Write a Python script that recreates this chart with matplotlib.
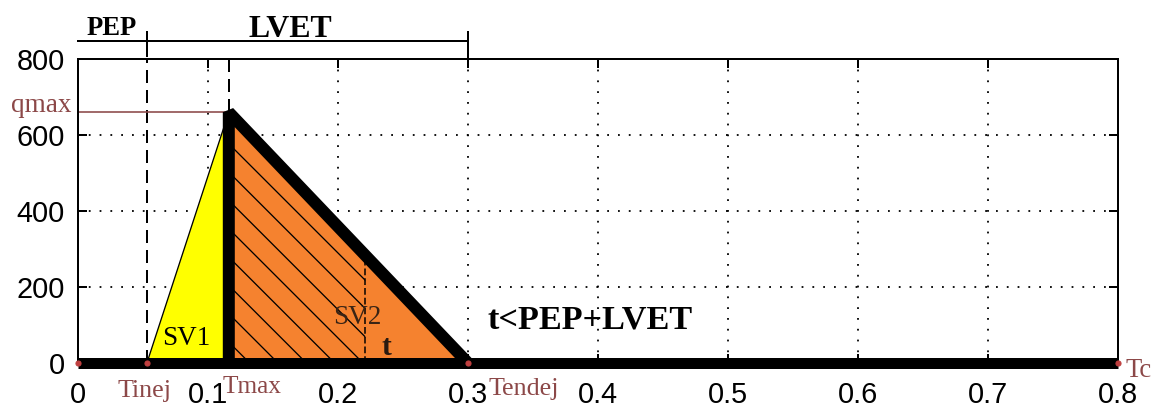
import numpy as np
import matplotlib
matplotlib.use("Agg")
import matplotlib.pyplot as plt
from matplotlib.patches import Polygon

# timing points of the ejection cycle (s) and peak flow
t_start = 0.0
t_inej = 0.053
t_max = 0.116
t_sv2 = 0.221
t_endej = 0.300
t_c = 0.800
q_max = 660.0

x_ticks = [0, 0.1, 0.2, 0.3, 0.4, 0.5, 0.6, 0.7, 0.8]
x_ticklabels = ["0", "0.1", "0.2", "0.3", "0.4", "0.5", "0.6", "0.7", "0.8"]
y_ticks = [0, 200, 400, 600, 800]

DPI = 85
PX = 72.0 / DPI  # one pixel in points

SERIF = ["Liberation Serif", "DejaVu Serif"]
SANS = ["Liberation Sans", "DejaVu Sans"]
BROWN = "#8c4848"

plt.rcParams["hatch.linewidth"] = 1.3 * PX

fig = plt.figure(figsize=(1161 / DPI, 407 / DPI), dpi=DPI)
ax = fig.add_axes([78 / 1161, 1 - 363 / 407, (1118 - 78) / 1161, (363 - 59) / 407])

# slope of the descending limb, used to close the hatched part
def q_desc(t):
    return q_max * (t_endej - t) / (t_endej - t_max)

# SV1: rising triangle
ax.add_patch(Polygon([(t_inej, 0), (t_max, q_max), (t_max, 0)], closed=True,
                     facecolor="#ffff00", edgecolor="black", lw=1.3 * PX, zorder=2))
# SV2: descending triangle
ax.add_patch(Polygon([(t_max, 0), (t_max, q_max), (t_endej, 0)], closed=True,
                     facecolor="#f5822f", edgecolor="none", zorder=2))
# hatched part of SV2 up to t
ax.add_patch(Polygon([(t_max, 0), (t_max, q_max), (t_sv2, q_desc(t_sv2)), (t_sv2, 0)],
                     closed=True, facecolor="none", edgecolor="black", lw=0,
                     hatch="\\", zorder=3))
ax.plot([t_sv2, t_sv2], [0, q_desc(t_sv2)], color="black", lw=1.5 * PX,
        ls=(0, (4.5, 2)), zorder=3)

# guide lines
ax.plot([t_inej, t_inej], [0, 800], color="black", lw=2 * PX, ls=(0, (6.5, 3.5)), zorder=1.5)
ax.plot([t_max, t_max], [q_max, 800], color="black", lw=2 * PX, ls=(0, (6.5, 3.5)), zorder=1.5)
ax.plot([t_start, t_max], [q_max, q_max], color=BROWN, lw=1.6 * PX, zorder=1.5)

# flow curve
ax.plot([t_start, t_c], [0, 0], color="black", lw=11 * PX, solid_capstyle="butt",
        zorder=4, clip_on=False)
ax.plot([t_max, t_max, t_endej], [0, q_max, 0], color="black", lw=12 * PX,
        solid_joinstyle="bevel", solid_capstyle="butt", zorder=4, clip_on=False)
ax.plot([t_start, t_inej, t_endej, t_c], [0, 0, 0, 0], ls="none", marker="o",
        ms=5 * PX, color="#c04040", zorder=5, clip_on=False)

# PEP / LVET brackets above the axes
yb = 848
ax.plot([t_start, t_endej], [yb, yb], color="black", lw=2 * PX, clip_on=False)
ax.plot([t_inej, t_inej], [yb - 40, yb + 22], color="black", lw=2 * PX, clip_on=False)
ax.plot([t_endej, t_endej], [yb - 60, yb + 22], color="black", lw=2 * PX, clip_on=False)
ax.text(0.026, 863, "PEP", family=SERIF, weight="bold", fontsize=22.5,
        ha="center", va="baseline")
ax.text(0.163, 859, "LVET", family=SERIF, weight="bold", fontsize=27,
        ha="center", va="baseline")

# annotations
ax.text(0.394, 92, "t<PEP+LVET", family=SERIF, weight="bold", fontsize=29,
        ha="center", va="baseline", zorder=6)
ax.text(0.083, 47, "SV1", family=SERIF, fontsize=23, ha="center", va="baseline", zorder=6)
ax.text(0.2146, 103, "SV2", family=SERIF, fontsize=23, color="#3a2415",
        ha="center", va="baseline", zorder=6)
ax.text(0.237, 22, "t", family=SERIF, weight="bold", fontsize=25, color="#2a1a10",
        ha="center", va="baseline", zorder=6)

ax.text(-0.005, q_max, "qmax", family=SERIF, fontsize=23, color=BROWN,
        ha="right", va="baseline")
ax.text(0.0515, -89, "Tinej", family=SERIF, fontsize=22, color=BROWN,
        ha="center", va="baseline")
ax.text(0.134, -79, "Tmax", family=SERIF, fontsize=21.5, color=BROWN,
        ha="center", va="baseline")
ax.text(0.343, -84, "Tendej", family=SERIF, fontsize=22, color=BROWN,
        ha="center", va="baseline")
ax.text(0.806, -36, "Tc", family=SERIF, fontsize=22.5, color=BROWN,
        ha="left", va="baseline")

# axes, ticks and grid
ax.set_xlim(0, 0.8)
ax.set_ylim(0, 800)
ax.set_xticks(x_ticks)
ax.set_xticklabels(x_ticklabels)
ax.set_yticks(y_ticks)
ax.set_axisbelow(True)
ax.grid(True, color="black", lw=1.8 * PX, ls=(0, (1, 5)))
ax.tick_params(direction="in", length=9 * PX, width=2 * PX, top=True, right=True,
               labelsize=24.5, colors="black")
ax.tick_params(axis="x", pad=15)
ax.tick_params(axis="y", pad=11)
for lab in ax.get_xticklabels() + ax.get_yticklabels():
    lab.set_family(SANS)
for sp in ax.spines.values():
    sp.set_linewidth(2 * PX)

fig.savefig("out.png", dpi=DPI, facecolor="white")
